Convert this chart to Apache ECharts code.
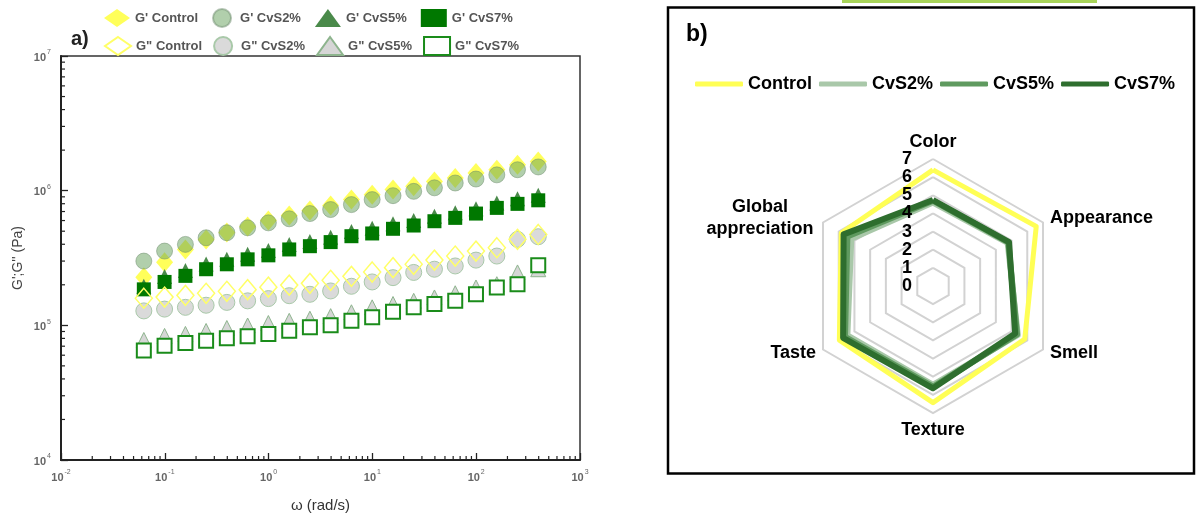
<!DOCTYPE html>
<html><head><meta charset="utf-8">
<script src="https://cdn.jsdelivr.net/npm/echarts@6/dist/echarts.min.js"></script>
<style>html,body{margin:0;padding:0;background:#fff}#c{width:1197px;height:518px}</style>
</head><body><div id="c"></div>
<script>
// ---------- data: panel a (frequency sweep) ----------
const omega = [0.0628, 0.0995, 0.158, 0.250, 0.396, 0.628, 0.995, 1.58, 2.50, 3.96, 6.28, 9.95, 15.8, 25.0, 39.6, 62.8, 99.5, 158, 250, 396];
const gpControl = [2.28e5, 2.94e5, 3.66e5, 4.34e5, 4.90e5, 5.42e5, 6.00e5, 6.53e5, 7.11e5, 7.75e5, 8.58e5, 9.33e5, 1.02e6, 1.08e6, 1.17e6, 1.24e6, 1.35e6, 1.43e6, 1.56e6, 1.65e6];
const gpCvS2 = [3.00e5, 3.56e5, 3.99e5, 4.47e5, 4.87e5, 5.30e5, 5.77e5, 6.18e5, 6.76e5, 7.24e5, 7.88e5, 8.58e5, 9.18e5, 9.88e5, 1.05e6, 1.14e6, 1.22e6, 1.31e6, 1.43e6, 1.50e6];
const gpCvS5 = [1.95e5, 2.30e5, 2.55e5, 2.85e5, 3.10e5, 3.37e5, 3.60e5, 3.98e5, 4.20e5, 4.50e5, 4.98e5, 5.25e5, 5.68e5, 6.00e5, 6.45e5, 6.85e5, 7.35e5, 8.10e5, 8.70e5, 9.25e5];
const gpCvS7 = [1.85e5, 2.10e5, 2.33e5, 2.61e5, 2.84e5, 3.09e5, 3.31e5, 3.66e5, 3.87e5, 4.15e5, 4.59e5, 4.81e5, 5.21e5, 5.51e5, 5.93e5, 6.28e5, 6.76e5, 7.45e5, 7.98e5, 8.48e5];
const gppControl = [1.59e5, 1.62e5, 1.67e5, 1.73e5, 1.79e5, 1.84e5, 1.92e5, 1.99e5, 2.05e5, 2.16e5, 2.31e5, 2.49e5, 2.68e5, 2.84e5, 3.05e5, 3.27e5, 3.56e5, 3.77e5, 4.35e5, 4.73e5];
const gppCvS2 = [1.28e5, 1.32e5, 1.36e5, 1.41e5, 1.48e5, 1.52e5, 1.58e5, 1.66e5, 1.70e5, 1.80e5, 1.95e5, 2.10e5, 2.26e5, 2.47e5, 2.61e5, 2.76e5, 3.05e5, 3.27e5, 4.35e5, 4.55e5];
const gppCvS5 = [7.78e4, 8.34e4, 8.63e4, 9.08e4, 9.55e4, 9.97e4, 1.04e5, 1.08e5, 1.12e5, 1.17e5, 1.25e5, 1.36e5, 1.44e5, 1.52e5, 1.61e5, 1.73e5, 1.91e5, 2.02e5, 2.47e5, 2.61e5];
const gppCvS7 = [6.49e4, 7.06e4, 7.40e4, 7.69e4, 8.02e4, 8.30e4, 8.63e4, 9.12e4, 9.67e4, 1.00e5, 1.08e5, 1.15e5, 1.26e5, 1.36e5, 1.44e5, 1.52e5, 1.70e5, 1.91e5, 2.02e5, 2.79e5];
const xExponents = [-2, -1, 0, 1, 2, 3];
const yExponents = [4, 5, 6, 7];
const minorMantissas = [2, 3, 4, 5, 6, 7, 8, 9];

// ---------- data: panel b (sensory radar) ----------
// indicators in ECharts' (counter-clockwise) drawing order starting at the top
const attributes = ['Color', 'Global appreciation', 'Taste', 'Texture', 'Smell', 'Appearance'];
const sensoryNames = ['Control', 'CvS2%', 'CvS5%', 'CvS7%'];
const scControl = [6.4, 5.84, 5.96, 6.43, 5.84, 6.57];
const scCvS2 = [4.6, 5.2, 5.45, 5.45, 5.4, 4.75];
const scCvS5 = [4.7, 5.45, 5.6, 5.55, 5.35, 4.8];
const scCvS7 = [4.74, 5.69, 5.72, 5.64, 5.23, 4.84];
const radarTicks = [0, 1, 2, 3, 4, 5, 6, 7];

const FONT = '"Liberation Sans", Arial, sans-serif';
const pts = ys => omega.map((x, i) => [x, ys[i]]);

const xMinor = [], yMinor = [];
for (let e = xExponents[0]; e < xExponents[xExponents.length - 1]; e++) minorMantissas.forEach(m => xMinor.push(+(m * Math.pow(10, e)).toPrecision(3)));
for (let e = yExponents[0]; e < yExponents[yExponents.length - 1]; e++) minorMantissas.forEach(m => yMinor.push(m * Math.pow(10, e)));
const xMin = Math.pow(10, xExponents[0]), xMax = Math.pow(10, xExponents[xExponents.length - 1]);
const yMin = Math.pow(10, yExponents[0]), yMax = Math.pow(10, yExponents[yExponents.length - 1]);
const rMin = radarTicks[0], rMax = radarTicks[radarTicks.length - 1];

const expLabel = v => '{b|10}{e|' + Math.round(Math.log10(v)) + '}';
const expRich = {
  b: { fontSize: 11, color: '#666', fontWeight: 'bold', fontFamily: FONT, lineHeight: 14, verticalAlign: 'bottom' },
  e: { fontSize: 7, color: '#666', fontFamily: FONT, lineHeight: 14, verticalAlign: 'top', padding: [0, 0, 0, 1] }
};

const chart = echarts.init(document.getElementById('c'), null, { renderer: 'canvas' });

const legendText = { fontSize: 13, fontWeight: 'bold', color: '#555', fontFamily: FONT };
const radarName = { color: '#000', fontSize: 18, fontWeight: 'bold', fontFamily: FONT };

const option = {
  animation: false,
  backgroundColor: '#fff',
  grid: { left: 61, right: 617, top: 56, bottom: 56, show: true, borderColor: '#333', borderWidth: 1.5, backgroundColor: 'transparent' },
  xAxis: {
    type: 'log', logBase: 10, min: xMin, max: xMax, splitNumber: 5,
    axisLine: { lineStyle: { color: '#222', width: 2 } },
    axisTick: { inside: true, length: 7, lineStyle: { color: '#222', width: 1.3 } },
    splitLine: { show: false },
    axisLabel: { formatter: expLabel, rich: expRich, margin: 9 },
    name: 'ω (rad/s)', nameLocation: 'middle', nameGap: 38,
    nameTextStyle: { fontSize: 15, color: '#333', fontFamily: FONT }
  },
  yAxis: {
    type: 'log', logBase: 10, min: yMin, max: yMax, splitNumber: 3,
    axisLine: { lineStyle: { color: '#222', width: 2 } },
    axisTick: { inside: true, length: 7, lineStyle: { color: '#222', width: 1.3 } },
    splitLine: { show: false },
    axisLabel: { formatter: expLabel, rich: expRich, margin: 10 },
    name: "G';G'' (Pa)", nameLocation: 'middle', nameGap: 36,
    nameTextStyle: { fontSize: 14, color: '#444', fontFamily: FONT }
  },
  radar: [
    { // grid rings + attribute names (below the series)
      center: [933, 286], radius: 127, startAngle: 90, splitNumber: 7, shape: 'polygon', z: 1,
      indicator: attributes.map(a => ({ name: a, min: rMin, max: rMax })),
      axisName: Object.assign({}, radarName, {
        formatter: n => n === 'Global appreciation' ? '{c|Global}\n{c|appreciation}' : n,
        rich: { c: Object.assign({ width: 112, align: 'center', lineHeight: 22 }, radarName) }
      }),
      nameGap: 8,
      splitLine: { lineStyle: { color: '#d2d2d2', width: 2 } },
      splitArea: { show: false }, axisLine: { show: false }, axisTick: { show: false }, axisLabel: { show: false }
    },
    { // scale numbers on the top axis (above the series)
      center: [933, 286], radius: 127, startAngle: 90, splitNumber: 7, shape: 'polygon', z: 10,
      indicator: attributes.map((a, i) => i === 0
        ? { name: '', min: rMin, max: rMax, axisLabel: { show: true, color: '#000', fontSize: 18, fontWeight: 'bold', fontFamily: FONT, margin: 21, showMinLabel: true, showMaxLabel: true } }
        : { name: '', min: rMin, max: rMax }),
      axisName: { show: false },
      splitLine: { show: false }, splitArea: { show: false }, axisLine: { show: false }, axisTick: { show: false }, axisLabel: { show: false }
    }
  ],
  legend: [
    { data: ["G' Control", "G' CvS2%", "G' CvS5%", "G' CvS7%"], left: 99, top: 3, orient: 'horizontal',
      itemWidth: 26, itemHeight: 18, itemGap: 14, selectedMode: false, textStyle: legendText },
    { data: ['G" Control', 'G" CvS2%', 'G" CvS5%', 'G" CvS7%'], left: 99, top: 31, orient: 'horizontal',
      itemWidth: 26, itemHeight: 18, itemGap: 11, selectedMode: false, textStyle: legendText },
    { data: sensoryNames, left: 690, top: 70, orient: 'horizontal', icon: 'roundRect',
      itemWidth: 48, itemHeight: 5, itemGap: 7, selectedMode: false,
      textStyle: { fontSize: 18, fontWeight: 'bold', color: '#000', fontFamily: FONT } }
  ],
  graphic: [
    { type: 'rect', shape: { x: 842, y: 0, width: 255, height: 3 }, style: { fill: '#a8d45a' }, silent: true },
    { type: 'rect', shape: { x: 668, y: 7.5, width: 526, height: 466 }, style: { fill: 'none', stroke: '#000', lineWidth: 2.5 }, silent: true },
    { type: 'text', left: 71, top: 29, style: { text: 'a)', font: 'bold 20px "Liberation Sans", Arial, sans-serif', fill: '#222' } },
    { type: 'text', left: 686, top: 23, style: { text: 'b)', font: 'bold 23px "Liberation Sans", Arial, sans-serif', fill: '#000' } }
  ],
  series: [
    { name: "G' Control", type: 'scatter', data: pts(gpControl), symbol: 'diamond', symbolSize: [17, 20],
      itemStyle: { color: '#ffff5a', opacity: 1 } },
    { name: "G' CvS2%", type: 'scatter', data: pts(gpCvS2), symbol: 'circle', symbolSize: 16,
      itemStyle: { color: 'rgba(100,160,90,0.5)', borderColor: 'rgba(110,140,110,0.5)', borderWidth: 1, opacity: 1 } },
    { name: "G' CvS5%", type: 'scatter', data: pts(gpCvS5), symbol: 'triangle', symbolSize: 15,
      itemStyle: { color: '#4a8a4a', opacity: 1 } },
    { name: "G' CvS7%", type: 'scatter', data: pts(gpCvS7), symbol: 'rect', symbolSize: 14,
      itemStyle: { color: '#007800', opacity: 1 } },
    { name: 'G" CvS2%', type: 'scatter', data: pts(gppCvS2), symbol: 'circle', symbolSize: 16,
      itemStyle: { color: '#dadada', borderColor: '#a9c9a9', borderWidth: 1, opacity: 1 } },
    { name: 'G" Control', type: 'scatter', data: pts(gppControl), symbol: 'diamond', symbolSize: [17, 20],
      itemStyle: { color: 'rgba(255,255,255,0)', borderColor: '#ffff66', borderWidth: 1.5, opacity: 1 } },
    { name: 'G" CvS5%', type: 'scatter', data: pts(gppCvS5), symbol: 'triangle', symbolSize: 15,
      itemStyle: { color: '#d6d6d6', borderColor: '#8db48d', borderWidth: 1, opacity: 1 } },
    { name: 'G" CvS7%', type: 'scatter', data: pts(gppCvS7), symbol: 'rect', symbolSize: 14,
      itemStyle: { color: '#ffffff', borderColor: '#1a8c1a', borderWidth: 2, opacity: 1 } },
    { type: 'custom', silent: true, clip: false, z: 5, data: xMinor.map(v => [v, yMin]),
      renderItem: (p, api) => { const c = api.coord([api.value(0), api.value(1)]);
        return { type: 'line', shape: { x1: c[0], y1: c[1], x2: c[0], y2: c[1] - 4 }, style: { stroke: '#222', lineWidth: 1.2 } }; } },
    { type: 'custom', silent: true, clip: false, z: 5, data: yMinor.map(v => [xMin, v]),
      renderItem: (p, api) => { const c = api.coord([api.value(0), api.value(1)]);
        return { type: 'line', shape: { x1: c[0], y1: c[1], x2: c[0] + 4, y2: c[1] }, style: { stroke: '#222', lineWidth: 1.2 } }; } },
    { type: 'radar', radarIndex: 0, symbol: 'none', silent: true, z: 3,
      data: [
        { name: sensoryNames[0], value: scControl, lineStyle: { color: '#ffff55', width: 5 }, itemStyle: { color: '#ffff55' } },
        { name: sensoryNames[1], value: scCvS2, lineStyle: { color: '#a9c8a9', width: 6 }, itemStyle: { color: '#a9c8a9' } },
        { name: sensoryNames[2], value: scCvS5, lineStyle: { color: '#5f9a5f', width: 6 }, itemStyle: { color: '#5f9a5f' } },
        { name: sensoryNames[3], value: scCvS7, lineStyle: { color: '#2e6e2e', width: 6 }, itemStyle: { color: '#2e6e2e' } }
      ] }
  ]
};
chart.setOption(option);
</script></body></html>
